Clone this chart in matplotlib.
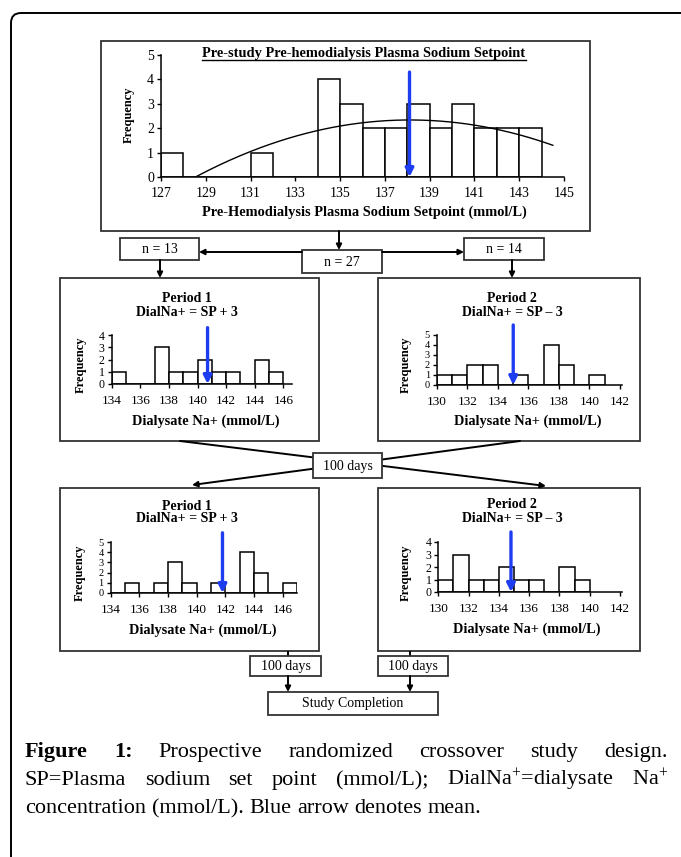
import numpy as np
import matplotlib
matplotlib.use('Agg')
import matplotlib.pyplot as plt
from matplotlib.patches import Rectangle, FancyBboxPatch

W, H, DPI = 681, 857, 100
SERIF = ['Liberation Serif', 'DejaVu Serif']
plt.rcParams['font.family'] = SERIF
plt.rcParams['mathtext.fontset'] = 'custom'
plt.rcParams['mathtext.rm'] = 'Liberation Serif'
plt.rcParams['mathtext.it'] = 'Liberation Serif:italic'
plt.rcParams['mathtext.bf'] = 'Liberation Serif:bold'

# ---------------- data ----------------
pre_left = [127, 128, 129, 130, 131, 132, 133, 134, 135, 136, 137, 138, 139, 140, 141, 142, 143]
pre_counts = [1, 0, 0, 0, 1, 0, 0, 4, 3, 2, 2, 3, 2, 3, 2, 2, 2]
pre_mean = 138.1
trend_x = [128.6, 131.0, 134.0, 136.0, 138.1, 140.0, 142.1, 144.5]
trend_y = [0.0, 1.1, 1.88, 2.23, 2.33, 2.23, 1.95, 1.3]
pre_xticks = [127, 129, 131, 133, 135, 137, 139, 141, 143, 145]

p1a_left = [134, 135, 136, 137, 138, 139, 140, 141, 142, 143, 144, 145]
p1a_counts = [1, 0, 0, 3, 1, 1, 2, 1, 1, 0, 2, 1]
p1a_mean = 140.7

p2a_left = [130, 131, 132, 133, 134, 135, 136, 137, 138, 139, 140]
p2a_counts = [1, 1, 2, 2, 0, 1, 0, 4, 2, 0, 1]
p2a_mean = 135.0

p1b_left = [134, 135, 136, 137, 138, 139, 140, 141, 142, 143, 144, 145, 146]
p1b_counts = [0, 1, 0, 1, 3, 1, 0, 1, 0, 4, 2, 0, 1]
p1b_mean = 141.8

p2b_left = [130, 131, 132, 133, 134, 135, 136, 137, 138, 139]
p2b_counts = [1, 3, 1, 1, 2, 1, 1, 0, 2, 1]
p2b_mean = 134.8

p1_xticks = [134, 136, 138, 140, 142, 144, 146]
p2_xticks = [130, 132, 134, 136, 138, 140, 142]

n_total, n_left, n_right = 27, 13, 14

# ---------------- figure ----------------
fig = plt.figure(figsize=(W / DPI, H / DPI), dpi=DPI)
bg = fig.add_axes([0, 0, 1, 1])
bg.set_xlim(0, W)
bg.set_ylim(H, 0)
bg.axis('off')

EDGE = '#333333'
BLUE = '#1e3cf0'

bg.add_patch(FancyBboxPatch((11, 13), 720, 900, boxstyle='round,pad=0,rounding_size=10',
                            fill=False, ec='black', lw=1.4))


def box(x0, y0, x1, y1, text=None, fs=10, z=2):
    bg.add_patch(Rectangle((x0, y0), x1 - x0, y1 - y0, fc='white', ec=EDGE, lw=1.3, zorder=z))
    if text is not None:
        bg.text((x0 + x1) / 2, (y0 + y1) / 2 + 0.5, text, ha='center', va='center', fontsize=fs,
                zorder=z + 1)


def arrow(x0, y0, x1, y1, lw=1.4, ms=8):
    bg.annotate('', xy=(x1, y1), xytext=(x0, y0),
                arrowprops=dict(arrowstyle='-|>', color='black', lw=lw, mutation_scale=ms,
                                shrinkA=0, shrinkB=0), zorder=4)


def line(x0, y0, x1, y1, lw=1.4):
    bg.plot([x0, x1], [y0, y1], color='black', lw=lw, solid_capstyle='butt')


box(101, 41, 590, 231)
arrow(339, 231, 339, 250)
box(302, 250, 382, 273, f'n = {n_total}')
box(120, 238, 199, 260, f'n = {n_left}')
box(464, 238, 544, 260, f'n = {n_right}')
arrow(302, 252, 199, 252)
arrow(382, 252, 464, 252)
arrow(160, 260, 160, 278)
arrow(512, 260, 512, 278)
box(60, 278, 319, 441)
box(378, 278, 640, 441)
arrow(180, 441, 546, 486)
arrow(520, 441, 192, 485)
box(313, 453, 382, 478, '100 days', z=6)
box(60, 488, 319, 651)
box(378, 488, 640, 651)
line(288, 651, 288, 656)
line(410, 651, 410, 656)
box(250, 656, 321, 676, '100 days')
box(378, 656, 448, 676, '100 days')
arrow(288, 676, 288, 692)
arrow(410, 676, 410, 692)
box(268, 692, 438, 715, 'Study Completion')


def px_axes(x0, y_top, x1, y_bot):
    return fig.add_axes([x0 / W, 1 - y_bot / H, (x1 - x0) / W, (y_bot - y_top) / H])


def hist(ax, left, counts, xlim, ymax, xticks, mean, arrow_top, fs=9.5, yfs=8, pad=3.5):
    ax.bar(left, counts, width=1, align='edge', color='white', edgecolor='black', lw=1.1, zorder=2)
    ax.set_xlim(*xlim)
    ax.set_ylim(0, ymax)
    ax.set_xticks(xticks)
    ax.set_yticks(range(0, ymax + 1))
    ax.patch.set_alpha(0)
    for s in ('top', 'right'):
        ax.spines[s].set_visible(False)
    for s in ('left', 'bottom'):
        ax.spines[s].set_linewidth(1.1)
    ax.tick_params(direction='out', length=3, width=1, pad=2)
    ax.tick_params(axis='x', labelsize=fs, pad=pad)
    ax.tick_params(axis='y', labelsize=yfs, pad=2)
    ax.annotate('', xy=(mean, 0), xytext=(mean, arrow_top),
                arrowprops=dict(arrowstyle='-|>', color=BLUE, lw=2.4, mutation_scale=12,
                                shrinkA=0, shrinkB=0),
                annotation_clip=False, zorder=5)


# top histogram
axT = px_axes(161, 55, 564, 177)
hist(axT, pre_left, pre_counts, (127, 145), 5, pre_xticks, pre_mean, 4.3, fs=10, yfs=10, pad=4.5)
coef = np.polyfit(trend_x, trend_y, 2)
xx = np.linspace(trend_x[0], trend_x[-1], 200)
axT.plot(xx, np.polyval(coef, xx), color='black', lw=1.0, zorder=3)
t = bg.text(364, 57, 'Pre-study Pre-hemodialysis Plasma Sodium Setpoint', ha='center',
            va='baseline', fontsize=10.4, fontweight='bold')
bg.text(364, 212, 'Pre-Hemodialysis Plasma Sodium Setpoint (mmol/L)', ha='center',
        va='center', fontsize=10.4, fontweight='bold')
bg.text(129, 115, 'Frequency', ha='center', va='center', rotation=90, fontsize=9, fontweight='bold')

panels = [
    (px_axes(111.7, 335, 292, 384), p1a_left, p1a_counts, (134, 146.6), 4, p1_xticks, p1a_mean, 4.6,
     187, 298, 312, 'Period 1', 'DialNa+ = SP + 3', 206, 421, 81, 365),
    (px_axes(437, 335, 621.5, 385), p2a_left, p2a_counts, (130, 142.1), 5, p2_xticks, p2a_mean, 6.0,
     512, 298, 312, 'Period 2', 'DialNa+ = SP \u2013 3', 528, 421, 406, 365),
    (px_axes(110.7, 542, 297, 593), p1b_left, p1b_counts, (134, 147), 5, p1_xticks, p1b_mean, 5.9,
     187, 506, 519, 'Period 1', 'DialNa+ = SP + 3', 203, 630, 80, 573),
    (px_axes(438.3, 542, 621.5, 592), p2b_left, p2b_counts, (130, 142.1), 4, p2_xticks, p2b_mean, 4.8,
     512, 504, 518, 'Period 2', 'DialNa+ = SP \u2013 3', 527, 629, 406, 573),
]
for (ax, left, counts, xlim, ymax, xt, mean, atop, tx, ty1, ty2, t1, t2, lx, ly, yx, yy) in panels:
    hist(ax, left, counts, xlim, ymax, xt, mean, atop, fs=9.5, yfs=8.5 if ymax == 4 else 7.5, pad=5)
    bg.text(tx, ty1, t1, ha='center', va='center', fontsize=10, fontweight='bold')
    bg.text(tx, ty2, t2, ha='center', va='center', fontsize=10, fontweight='bold')
    bg.text(lx, ly, 'Dialysate Na+ (mmol/L)', ha='center', va='center', fontsize=10.3, fontweight='bold')
    bg.text(yx, yy, 'Frequency', ha='center', va='center', rotation=90, fontsize=9, fontweight='bold')

fig.canvas.draw()
r = fig.canvas.get_renderer()
bb = t.get_window_extent(r)
inv = bg.transData.inverted()
(ux0, _), (ux1, _) = inv.transform([(bb.x0, bb.y0), (bb.x1, bb.y0)])
bg.plot([ux0, ux1], [59.5, 59.5], color='black', lw=1.0)

CAP_FS = 16


def justified(tokens, y, x0, x1, justify=True):
    arts = []
    for s, wgt in tokens:
        arts.append(bg.text(0, y, s, ha='left', va='baseline', fontsize=CAP_FS, fontweight=wgt))
    fig.canvas.draw()
    rr = fig.canvas.get_renderer()
    widths = [a.get_window_extent(rr).width for a in arts]
    if justify and len(arts) > 1:
        gap = (x1 - x0 - sum(widths)) / (len(arts) - 1)
    else:
        sp = bg.text(0, 0, 'a b', fontsize=CAP_FS)
        sp2 = bg.text(0, 0, 'ab', fontsize=CAP_FS)
        fig.canvas.draw()
        gap = sp.get_window_extent(rr).width - sp2.get_window_extent(rr).width
        sp.remove()
        sp2.remove()
    x = x0
    for a, w in zip(arts, widths):
        a.set_x(x)
        x += w + gap


line1 = [('Figure', 'bold'), ('1:', 'bold')] + [(w, 'normal') for w in
                                               'Prospective randomized crossover study design.'.split()]
line2 = [(w, 'normal') for w in ['SP=Plasma', 'sodium', 'set', 'point', '(mmol/L);',
                                 'DialNa$^{+}$=dialysate', 'Na$^{+}$']]
line3 = [(w, 'normal') for w in 'concentration (mmol/L). Blue arrow denotes mean.'.split()]
justified(line1, 757, 25, 668)
justified(line2, 785, 25, 668)
justified(line3, 813, 25, 668, justify=False)

fig.savefig('out.png', dpi=DPI)
